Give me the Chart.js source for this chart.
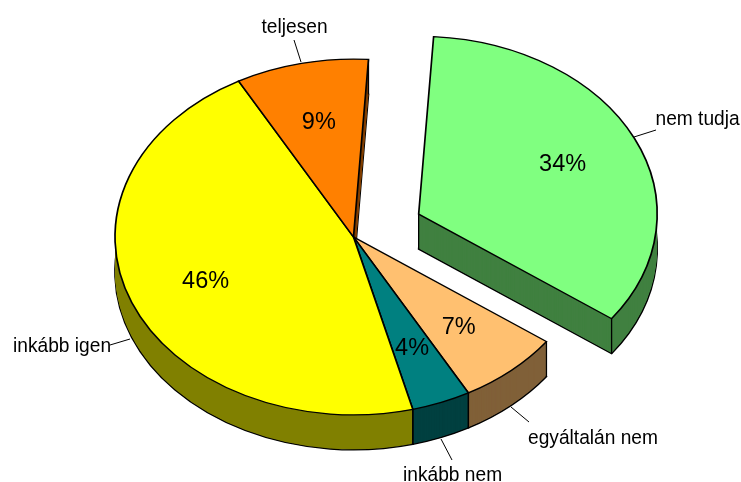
<!DOCTYPE html>
<html>
<head>
<meta charset="utf-8">
<style>
  html, body { margin: 0; padding: 0; background: #fff; }
  canvas { display: block; }
</style>
<script src="https://cdn.jsdelivr.net/npm/chart.js@4"></script>
</head>
<body>
<canvas id="pie" width="741" height="482"></canvas>
<script>
// Data
const categories = ["nem tudja", "egyáltalán nem", "inkább nem", "inkább igen", "teljesen"];
const shares = [34, 7, 4, 46, 9];
const topColors = ["#80ff80", "#ffc070", "#008080", "#ffff00", "#ff8000"];
const sideColors = ["#408040", "#806038", "#004040", "#808000", "#804000"];
const explode = [72, 0, 0, 0, 0];

// Fake 3D settings
const squash = 0.746;
const depth = 35;
const labelRadius = 0.667;

// Outer label text position and its leader line
const callouts = [
  { x: 655.5, y: 119, line: [634, 137, 656, 130] },
  { x: 528, y: 438, line: [511, 407, 529, 422] },
  { x: 403, y: 475, line: [441, 439, 452, 460] },
  { x: 13, y: 346, line: [110, 345, 130, 339] },
  { x: 261.5, y: 27, line: [294, 40, 301, 62] },
];

function withArcOptions(arc, overrides, callback) {
  const saved = arc.options;
  arc.options = Object.assign({}, saved, overrides);
  callback();
  arc.options = saved;
}

const pie3d = {
  id: "pie3d",
  afterDatasetUpdate(chart) {
    // Move exploded slices away from the center
    chart.getDatasetMeta(0).data.forEach((arc, i) => {
      const mid = (arc.startAngle + arc.endAngle) / 2;
      arc.x += Math.cos(mid) * explode[i];
      arc.y += Math.sin(mid) * explode[i];
    });
  },
  beforeDatasetsDraw(chart) {
    const ctx = chart.ctx;
    const arcs = chart.getDatasetMeta(0).data;
    const cy = (chart.chartArea.top + chart.chartArea.bottom) / 2;

    const project = (shift, draw) => {
      ctx.save();
      ctx.translate(0, cy + shift);
      ctx.scale(1, squash);
      ctx.translate(0, -cy);
      draw();
      ctx.restore();
    };

    // Side walls, from the bottom layer upwards
    for (let d = depth; d > 0; d--) {
      project(d, () => {
        arcs.forEach((arc, i) => {
          withArcOptions(
            arc,
            { backgroundColor: sideColors[i], borderWidth: d === depth ? 1.7 : 0 },
            () => arc.draw(ctx)
          );
        });
      });
    }

    // Vertical edges of the walls
    ctx.strokeStyle = "#000";
    ctx.lineWidth = 1.3;
    arcs.forEach((arc) => {
      const points = [
        [arc.x, arc.y],
        [arc.x + Math.cos(arc.startAngle) * arc.outerRadius, arc.y + Math.sin(arc.startAngle) * arc.outerRadius],
        [arc.x + Math.cos(arc.endAngle) * arc.outerRadius, arc.y + Math.sin(arc.endAngle) * arc.outerRadius],
      ];
      points.forEach(([x, y]) => {
        const sy = cy + (y - cy) * squash;
        ctx.beginPath();
        ctx.moveTo(x, sy);
        ctx.lineTo(x, sy + depth);
        ctx.stroke();
      });
    });

    // Top faces
    project(0, () => arcs.forEach((arc) => arc.draw(ctx)));

    // Skip the normal flat draw
    return false;
  },
  afterDraw(chart) {
    const ctx = chart.ctx;
    const arcs = chart.getDatasetMeta(0).data;
    const cy = (chart.chartArea.top + chart.chartArea.bottom) / 2;

    ctx.save();
    ctx.fillStyle = "#000";

    // Percent labels
    ctx.font = '23.5px "Liberation Sans", Arial, sans-serif';
    ctx.textAlign = "center";
    ctx.textBaseline = "middle";
    arcs.forEach((arc, i) => {
      const mid = (arc.startAngle + arc.endAngle) / 2;
      const x = arc.x + Math.cos(mid) * arc.outerRadius * labelRadius;
      const y = arc.y + Math.sin(mid) * arc.outerRadius * labelRadius;
      ctx.fillText(shares[i] + "%", x, cy + (y - cy) * squash + 1);
    });

    // Category labels, slightly condensed as in the original
    ctx.font = '20.5px "Liberation Sans", Arial, sans-serif';
    ctx.textAlign = "left";
    callouts.forEach((c, i) => {
      ctx.save();
      ctx.translate(c.x, c.y);
      ctx.scale(0.935, 1);
      ctx.fillText(categories[i], 0, 0);
      ctx.restore();

      ctx.strokeStyle = "#000";
      ctx.lineWidth = 1;
      ctx.beginPath();
      ctx.moveTo(c.line[0], c.line[1]);
      ctx.lineTo(c.line[2], c.line[3]);
      ctx.stroke();
    });
    ctx.restore();
  },
};

const chart = new Chart(document.getElementById("pie"), {
  type: "pie",
  data: {
    labels: categories,
    datasets: [
      {
        data: shares,
        backgroundColor: topColors,
        borderColor: "#000",
        borderWidth: 1.7,
        borderJoinStyle: "miter",
      },
    ],
  },
  options: {
    responsive: false,
    animation: false,
    radius: 238.5,
    rotation: 3.6,
    layout: { padding: { left: 0, right: 34, top: 0, bottom: 8 } },
    plugins: {
      legend: { display: false },
      tooltip: { enabled: false },
    },
  },
  plugins: [pie3d],
});
</script>
</body>
</html>
